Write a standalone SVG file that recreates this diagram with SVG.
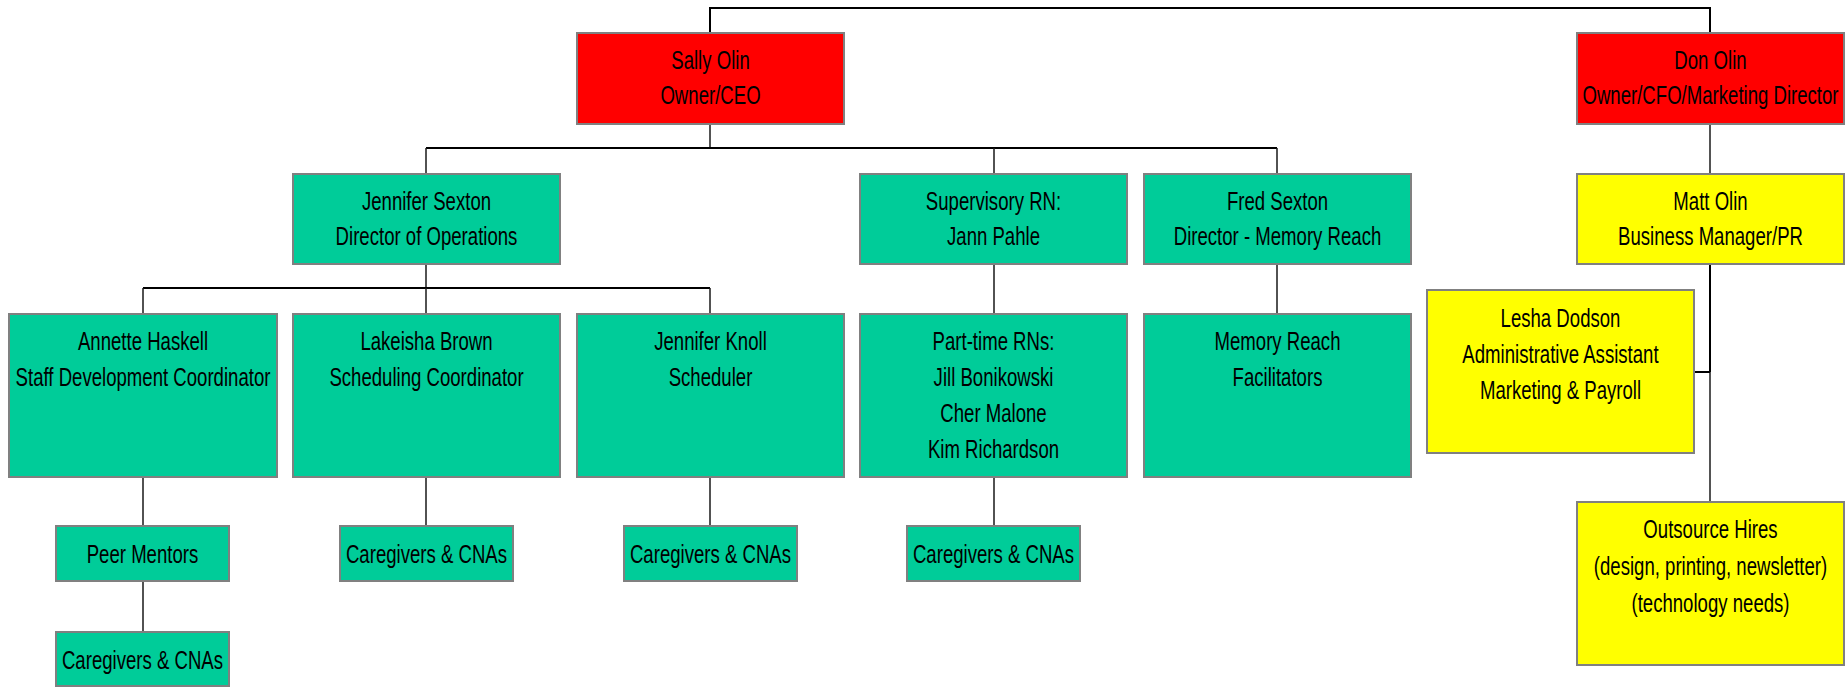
<svg xmlns="http://www.w3.org/2000/svg" width="1845" height="687" viewBox="0 0 1845 687">
<style>
  .box { stroke: #808080; stroke-width: 2; }
  .red { fill: #FF0000; }
  .green { fill: #00CC99; }
  .yellow { fill: #FFFF00; }
  .lbl { font-family: "Liberation Sans", Arial, sans-serif; font-size: 26px; fill: #000; text-anchor: middle; }
  .conn { stroke: #000; stroke-width: 2; fill: none; }
  .conn-v { stroke: #1a1a1a; stroke-width: 1.5; fill: none; }
</style>
<rect width="1845" height="687" fill="#FFFFFF"/>
<g id="connectors">
  <path class="conn" d="M710,33 V8 H1710 V33"/>
  <path class="conn-v" d="M710,124 V148"/>
  <path class="conn" d="M426,148 H1277"/>
  <path class="conn-v" d="M426,148 V174 M994,148 V174 M1277,148 V174"/>
  <path class="conn-v" d="M1710,124 V174"/>
  <path class="conn" d="M1710,264 V372"/>
  <path class="conn-v" d="M1710,372 V502"/>
  <path class="conn" d="M1694,372 H1710"/>
  <path class="conn-v" d="M426,264 V288"/>
  <path class="conn" d="M143,288 H710"/>
  <path class="conn-v" d="M143,288 V314 M426,288 V314 M710,288 V314"/>
  <path class="conn-v" d="M994,264 V314 M1277,264 V314"/>
  <path class="conn-v" d="M143,477 V526 M143,581 V632"/>
  <path class="conn-v" d="M426,477 V526 M710,477 V526 M994,477 V526"/>
</g>
<g id="sally">
  <rect class="box red" x="577" y="33" width="267" height="91"/>
  <text class="lbl" transform="translate(710.5,69) scale(0.715,1)"><tspan x="0">Sally Olin</tspan><tspan x="0" dy="35">Owner/CEO</tspan></text>
</g>
<g id="don">
  <rect class="box red" x="1577" y="33" width="267" height="91"/>
  <text class="lbl" transform="translate(1710.5,69) scale(0.715,1)"><tspan x="0">Don Olin</tspan><tspan x="0" dy="35">Owner/CFO/Marketing Director</tspan></text>
</g>
<g id="jennifer-sexton">
  <rect class="box green" x="293" y="174" width="267" height="90"/>
  <text class="lbl" transform="translate(426.5,210) scale(0.715,1)"><tspan x="0">Jennifer Sexton</tspan><tspan x="0" dy="35">Director of Operations</tspan></text>
</g>
<g id="supervisory-rn">
  <rect class="box green" x="860" y="174" width="267" height="90"/>
  <text class="lbl" transform="translate(993.5,210) scale(0.715,1)"><tspan x="0">Supervisory RN:</tspan><tspan x="0" dy="35">Jann Pahle</tspan></text>
</g>
<g id="fred-sexton">
  <rect class="box green" x="1144" y="174" width="267" height="90"/>
  <text class="lbl" transform="translate(1277.5,210) scale(0.715,1)"><tspan x="0">Fred Sexton</tspan><tspan x="0" dy="35">Director - Memory Reach</tspan></text>
</g>
<g id="matt-olin">
  <rect class="box yellow" x="1577" y="174" width="267" height="90"/>
  <text class="lbl" transform="translate(1710.5,210) scale(0.715,1)"><tspan x="0">Matt Olin</tspan><tspan x="0" dy="35">Business Manager/PR</tspan></text>
</g>
<g id="annette">
  <rect class="box green" x="9" y="314" width="268" height="163"/>
  <text class="lbl" transform="translate(143,350) scale(0.715,1)"><tspan x="0">Annette Haskell</tspan><tspan x="0" dy="36">Staff Development Coordinator</tspan></text>
</g>
<g id="lakeisha">
  <rect class="box green" x="293" y="314" width="267" height="163"/>
  <text class="lbl" transform="translate(426.5,350) scale(0.715,1)"><tspan x="0">Lakeisha Brown</tspan><tspan x="0" dy="36">Scheduling Coordinator</tspan></text>
</g>
<g id="jennifer-knoll">
  <rect class="box green" x="577" y="314" width="267" height="163"/>
  <text class="lbl" transform="translate(710.5,350) scale(0.715,1)"><tspan x="0">Jennifer Knoll</tspan><tspan x="0" dy="36">Scheduler</tspan></text>
</g>
<g id="part-time-rns">
  <rect class="box green" x="860" y="314" width="267" height="163"/>
  <text class="lbl" transform="translate(993.5,350) scale(0.715,1)"><tspan x="0">Part-time RNs:</tspan><tspan x="0" dy="36">Jill Bonikowski</tspan><tspan x="0" dy="36">Cher Malone</tspan><tspan x="0" dy="36">Kim Richardson</tspan></text>
</g>
<g id="memory-reach">
  <rect class="box green" x="1144" y="314" width="267" height="163"/>
  <text class="lbl" transform="translate(1277.5,350) scale(0.715,1)"><tspan x="0">Memory Reach</tspan><tspan x="0" dy="36">Facilitators</tspan></text>
</g>
<g id="lesha">
  <rect class="box yellow" x="1427" y="290" width="267" height="163"/>
  <text class="lbl" transform="translate(1560.5,327) scale(0.715,1)"><tspan x="0">Lesha Dodson</tspan><tspan x="0" dy="36">Administrative Assistant</tspan><tspan x="0" dy="36">Marketing &amp; Payroll</tspan></text>
</g>
<g id="outsource">
  <rect class="box yellow" x="1577" y="502" width="267" height="163"/>
  <text class="lbl" transform="translate(1710.5,538) scale(0.715,1)"><tspan x="0">Outsource Hires</tspan><tspan x="0" dy="37">(design, printing, newsletter)</tspan><tspan x="0" dy="37">(technology needs)</tspan></text>
</g>
<g id="peer-mentors">
  <rect class="box green" x="56" y="526" width="173" height="55"/>
  <text class="lbl" transform="translate(142.5,563) scale(0.715,1)">Peer Mentors</text>
</g>
<g id="caregivers-1">
  <rect class="box green" x="56" y="632" width="173" height="54"/>
  <text class="lbl" transform="translate(142.5,669) scale(0.715,1)">Caregivers &amp; CNAs</text>
</g>
<g id="caregivers-2">
  <rect class="box green" x="340" y="526" width="173" height="55"/>
  <text class="lbl" transform="translate(426.5,563) scale(0.715,1)">Caregivers &amp; CNAs</text>
</g>
<g id="caregivers-3">
  <rect class="box green" x="624" y="526" width="173" height="55"/>
  <text class="lbl" transform="translate(710.5,563) scale(0.715,1)">Caregivers &amp; CNAs</text>
</g>
<g id="caregivers-4">
  <rect class="box green" x="907" y="526" width="173" height="55"/>
  <text class="lbl" transform="translate(993.5,563) scale(0.715,1)">Caregivers &amp; CNAs</text>
</g>
</svg>
